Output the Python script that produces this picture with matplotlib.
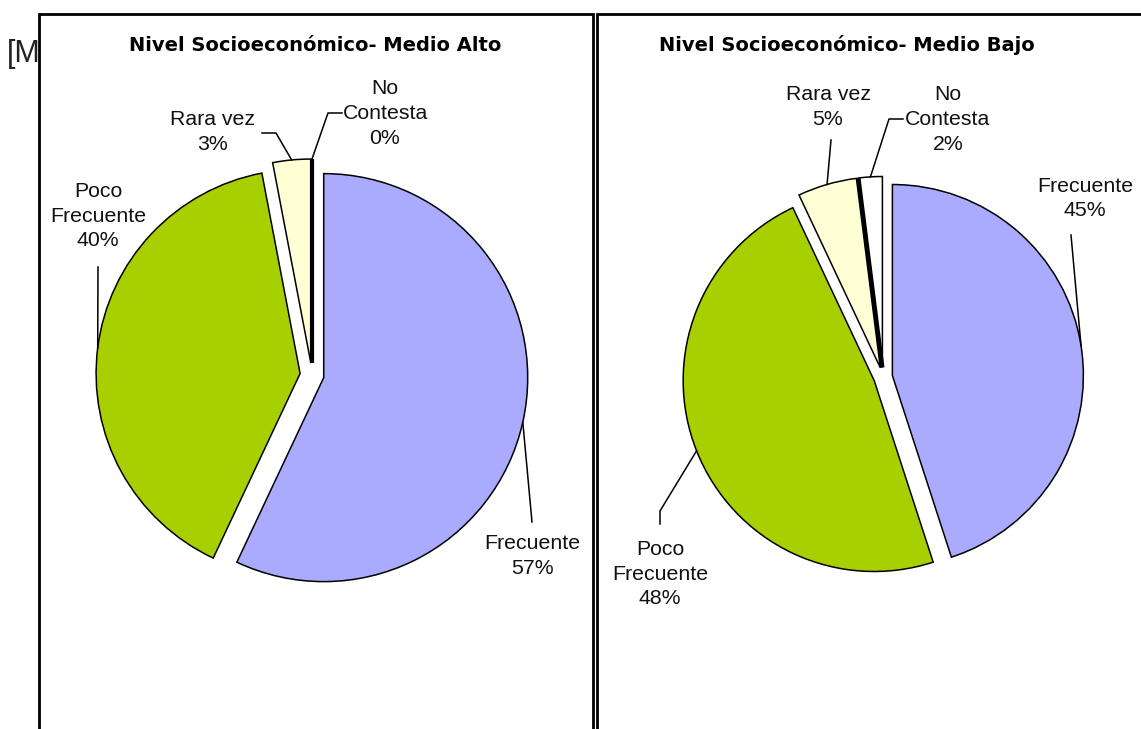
import numpy as np
import matplotlib
matplotlib.use("Agg")
import matplotlib.pyplot as plt
from matplotlib.patches import Rectangle

W, H = 1141, 729

categorias = ["Frecuente", "Poco\nFrecuente", "Rara vez", "No\nContesta"]
medio_alto = [57, 40, 3, 0]
medio_bajo = [45, 48, 5, 2]
titulos = ["Nivel Socioeconómico- Medio Alto", "Nivel Socioeconómico- Medio Bajo"]
colores = ["#aaaaff", "#a8d000", "#ffffd6", "#ffffff"]

plt.rcParams['font.family'] = ['Liberation Sans', 'DejaVu Sans']

fig = plt.figure(figsize=(W / 100, H / 100), dpi=100)
ax = fig.add_axes([0, 0, 1, 1])


def Y(y):
    # coordenadas tipo imagen (y hacia abajo) -> y hacia arriba
    return H - y


# texto de fondo que queda tapado por los recuadros
ax.text(7, Y(54), "[Medio", fontsize=22, color="#222222", va="center", ha="left", zorder=0)

# recuadros
ax.add_patch(Rectangle((38.5, -10), 554, Y(13.5) + 10, facecolor="white",
                       edgecolor="black", lw=2, zorder=1))
ax.add_patch(Rectangle((596.5, -10), 600, Y(13.5) + 10, facecolor="white",
                       edgecolor="black", lw=2, zorder=1))

# centro, radio, desplazamiento (px) y centro del titulo
pies = [
    dict(vals=medio_alto, center=(312, Y(375)), r=204, exp=12, tx=315),
    dict(vals=medio_bajo, center=(883, Y(377)), r=191, exp=9.5, tx=847),
]

# posiciones de etiquetas y puntos de las lineas guia (coordenadas imagen)
label_pos = [
    [(532, 556), (98, 216), (213, 132), (385, 113.5)],
    [(1085, 198.5), (660, 574), (828, 107), (948, 119.5)],
]
guide_pts = [
    [[(532, 522)], [(98, 267)], [(262, 133), (276, 133)], [(342, 113), (328, 113)]],
    [[(1071, 235)], [(660, 524), (660, 511)], [(831, 140)], [(903, 119), (889, 119)]],
]

for i, p in enumerate(pies):
    wedges, _ = ax.pie(p["vals"], colors=colores, startangle=90, counterclock=False,
                       explode=[p["exp"]] * len(p["vals"]), center=p["center"],
                       radius=p["r"], frame=True,
                       wedgeprops=dict(edgecolor="black", linewidth=1.1))
    for w in wedges:
        w.set_zorder(3)
    # borde grueso de "No Contesta"
    wn = wedges[-1]
    cx, cy = wn.center
    a = np.radians(wn.theta2)
    ax.plot([cx, cx + wn.r * np.cos(a)], [cy, cy + wn.r * np.sin(a)],
            color="black", lw=3, solid_capstyle="butt", zorder=4)

    ax.text(p["tx"], Y(45), titulos[i], ha="center", va="center",
            fontsize=14, fontweight="bold", family="DejaVu Sans", zorder=5)

    for j, w in enumerate(wedges):
        pct = "%d%%" % round(p["vals"][j])
        lx, ly = label_pos[i][j]
        ax.text(lx, Y(ly), categorias[j] + "\n" + pct, ha="center", va="center",
                fontsize=15.3, linespacing=1.38, color="#111111", zorder=5)
        mid = np.radians((w.theta1 + w.theta2) / 2)
        cx, cy = w.center
        end = (cx + w.r * np.cos(mid), cy + w.r * np.sin(mid))
        xs = [q[0] for q in guide_pts[i][j]] + [end[0]]
        ys = [Y(q[1]) for q in guide_pts[i][j]] + [end[1]]
        ax.plot(xs, ys, color="black", lw=1.1, zorder=5)

ax.set_xlim(0, W)
ax.set_ylim(0, H)
ax.set_aspect("equal")
ax.axis("off")

fig.savefig("out.png", dpi=100)
